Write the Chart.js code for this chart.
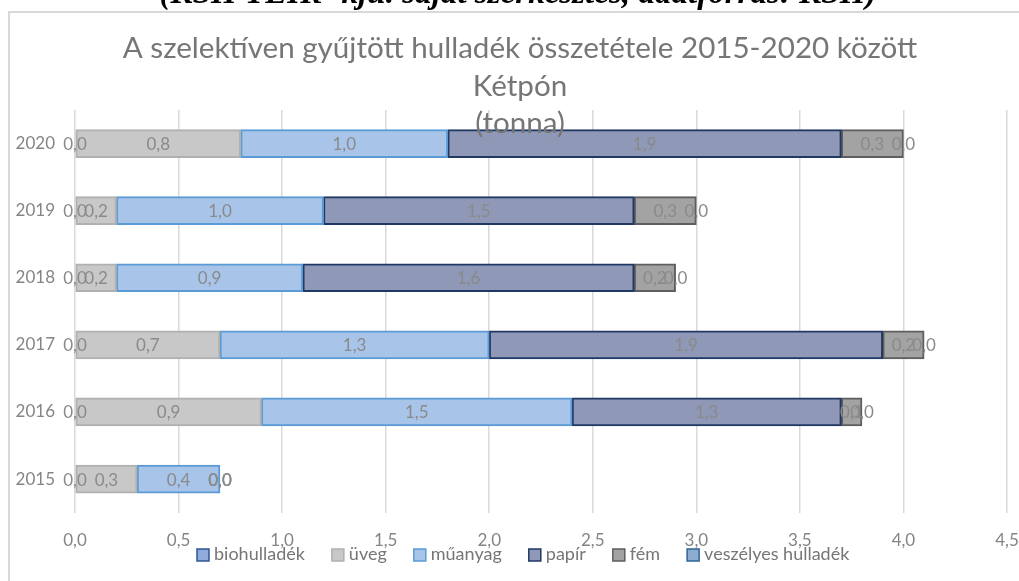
<!DOCTYPE html>
<html>
<head>
<meta charset="utf-8">
<script src="https://cdn.jsdelivr.net/npm/chart.js@4.4.1/dist/chart.umd.min.js"></script>
<style>
  html, body { margin: 0; padding: 0; background: #fff; }
  canvas { display: block; }
</style>
</head>
<body>
<canvas id="wasteChart" width="1019" height="581"></canvas>
<script>
// Selective waste composition, Kétpó 2015-2020 (tonnes)
const years = ['2020', '2019', '2018', '2017', '2016', '2015'];
const bio = [0.0, 0.0, 0.0, 0.0, 0.0, 0.0];
const uveg = [0.8, 0.2, 0.2, 0.7, 0.9, 0.3];
const muanyag = [1.0, 1.0, 0.9, 1.3, 1.5, 0.4];
const papir = [1.9, 1.5, 1.6, 1.9, 1.3, 0.0];
const fem = [0.3, 0.3, 0.2, 0.2, 0.1, 0.0];
const veszelyes = [0.0, 0.0, 0.0, 0.0, 0.0, 0.0];

const titleLines = ['A szelektíven gyűjtött hulladék összetétele 2015-2020 között', 'Kétpón', '(tonna)'];
const sourceNote = '(KSH TEIR -kju. saját szerkesztés, adatforrás: KSH)';

const FONT = 'Lato';
const fmt = v => Number(v).toFixed(1).replace('.', ',');

function fitSize(c, text, font, target) {
  c.font = font.replace('{s}', '100px');
  return 100 * target / c.measureText(text).width;
}

// frame, source note, data labels, title and legend
const decorations = {
  id: 'decorations',
  beforeDraw(chart) {
    const c = chart.ctx;
    c.save();
    c.fillStyle = '#fff';
    c.fillRect(0, 0, chart.width, chart.height);
    c.strokeStyle = '#d9d9d9';
    c.lineWidth = 2;
    c.beginPath();
    c.moveTo(9, chart.height);
    c.lineTo(9, 12);
    c.lineTo(chart.width, 12);
    c.stroke();
    const s = fitSize(c, sourceNote, 'italic bold {s} "Liberation Serif"', 717);
    c.font = `italic bold ${s}px "Liberation Serif"`;
    c.fillStyle = '#000';
    c.textAlign = 'center';
    c.textBaseline = 'alphabetic';
    c.fillText(sourceNote, 518, 3);
    c.restore();
  },
  afterDatasetsDraw(chart) {
    const c = chart.ctx;
    c.save();
    c.font = `17px ${FONT}`;
    c.fillStyle = '#8a8a8a';
    c.textAlign = 'center';
    c.textBaseline = 'middle';
    chart.data.datasets.forEach((ds, i) => {
      chart.getDatasetMeta(i).data.forEach((bar, j) => {
        c.fillText(fmt(ds.data[j]), (bar.x + bar.base) / 2, bar.y + 1);
      });
    });

    // title
    const s = fitSize(c, titleLines[0], `{s} ${FONT}`, 795);
    c.font = `${s}px ${FONT}`;
    c.fillStyle = '#767676';
    c.textBaseline = 'alphabetic';
    [58, 96, 133].forEach((y, k) => c.fillText(titleLines[k], 520, y));

    // legend
    c.font = `18px ${FONT}`;
    c.textAlign = 'left';
    c.textBaseline = 'middle';
    let x = 197;
    chart.data.datasets.forEach(ds => {
      c.fillStyle = ds.backgroundColor;
      c.strokeStyle = ds.borderColor;
      c.lineWidth = 1.5;
      c.fillRect(x, 549, 12, 12);
      c.strokeRect(x, 549, 12, 12);
      c.fillStyle = '#767676';
      c.fillText(ds.label, x + 17, 554);
      x += 17 + c.measureText(ds.label).width + 27;
    });
    c.restore();
  }
};

const mkSet = (label, data, bg, border) => ({
  label, data,
  backgroundColor: bg,
  borderColor: border,
  borderWidth: 2,
  borderSkipped: false,
  barThickness: 28
});

const ctx = document.getElementById('wasteChart').getContext('2d');
const chart = new Chart(ctx, {
  type: 'bar',
  data: {
    labels: years,
    datasets: [
      mkSet('biohulladék', bio, '#8faadc', '#2f5597'),
      mkSet('üveg', uveg, '#c8c8c8', '#b0b0b0'),
      mkSet('műanyag', muanyag, '#a8c4e9', '#5b9bd5'),
      mkSet('papír', papir, '#8f98b6', '#203864'),
      mkSet('fém', fem, '#a3a3a3', '#5e5e5e'),
      mkSet('veszélyes hulladék', veszelyes, '#8eabd0', '#2e6396')
    ]
  },
  options: {
    indexAxis: 'y',
    responsive: false,
    animation: false,
    devicePixelRatio: 1,
    layout: { padding: { top: 110, left: 15, right: 12, bottom: 12 } },
    plugins: {
      legend: { display: false },
      title: { display: false },
      tooltip: { enabled: false }
    },
    scales: {
      x: {
        stacked: true,
        min: 0,
        max: 4.5,
        ticks: {
          stepSize: 0.5,
          padding: 18,
          color: '#858585',
          font: { family: FONT, size: 17 },
          callback: v => fmt(v),
          maxRotation: 0
        },
        grid: { color: '#d9d9d9', lineWidth: 1.5, drawTicks: false },
        border: { display: false },
        afterFit: s => { s.paddingLeft = 0; s.paddingRight = 0; }
      },
      y: {
        stacked: true,
        ticks: {
          padding: 20,
          color: '#858585',
          font: { family: FONT, size: 17 }
        },
        grid: { display: false, drawTicks: false },
        border: { display: false },
        afterFit: s => { s.width = 60; }
      }
    }
  },
  plugins: [decorations]
});
</script>
</body>
</html>
